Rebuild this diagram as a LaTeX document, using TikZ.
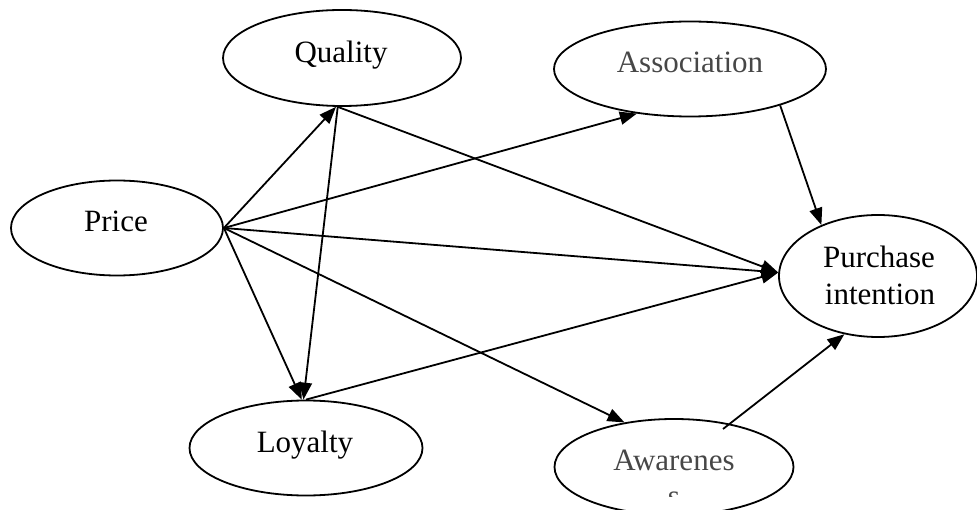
\documentclass[tikz,border=0pt]{standalone}
\usepackage{fontspec}
\setmainfont{Liberation Serif}
\usetikzlibrary{shapes.geometric,arrows.meta}
\begin{document}
\begin{tikzpicture}[x=1pt,y=-1pt,
  oval/.style={draw,ellipse,line width=1.8pt,inner sep=0pt},
  lbl/.style={anchor=base,inner sep=0pt,font=\fontsize{31}{36}\selectfont},
  graylbl/.style={lbl,text=black!72},
  arr/.style={line width=1.8pt,-{Triangle[length=17pt,width=13pt]}}]
\useasboundingbox (0,0) rectangle (977,510);
% ellipses
\node[oval,minimum width=238pt,minimum height=96pt] (quality) at (342,58) {};
\node[oval,minimum width=272pt,minimum height=95pt] (assoc) at (690,69) {};
\node[oval,minimum width=212pt,minimum height=95pt] (price) at (117,228) {};
\node[oval,minimum width=198pt,minimum height=122pt] (purchase) at (878,276) {};
\node[oval,minimum width=233pt,minimum height=95pt] (loyalty) at (306,448) {};
\node[oval,minimum width=239pt,minimum height=96pt] (aware) at (674,467) {};
% labels
\node[lbl] (tq) at (341,63) {Quality};
\node[graylbl] (ta) at (690,73) {Association};
\node[lbl] (tp) at (116,232) {Price};
\node[lbl] (tpu1) at (879,268) {Purchase};
\node[lbl] (tpu2) at (880,305) {intention};
\node[lbl] (tl) at (305,452) {Loyalty};
\node[graylbl] (taw) at (674,470) {Awarenes};
\begin{scope}
  \clip (600,480) rectangle (750,496);
  \node[graylbl] (taws) at (674,506) {s};
\end{scope}
\coordinate (awin) at (723,429);
% connectors
\draw[arr] (price.east) -- (quality.263);
\draw[arr] (quality.265) -- (purchase.178);
\draw[arr] (quality.265) -- (loyalty.93);
\draw[arr] (price.east) -- (assoc.220);
\draw[arr] (price.east) -- (purchase.178);
\draw[arr] (price.east) -- (aware.138);
\draw[arr] (price.east) -- (loyalty.95);
\draw[arr] (loyalty.north) -- (purchase.178);
\draw[arr] (assoc.-22) -- (purchase.138);
\draw[arr] (awin) -- (purchase.240);
\end{tikzpicture}
\end{document}
